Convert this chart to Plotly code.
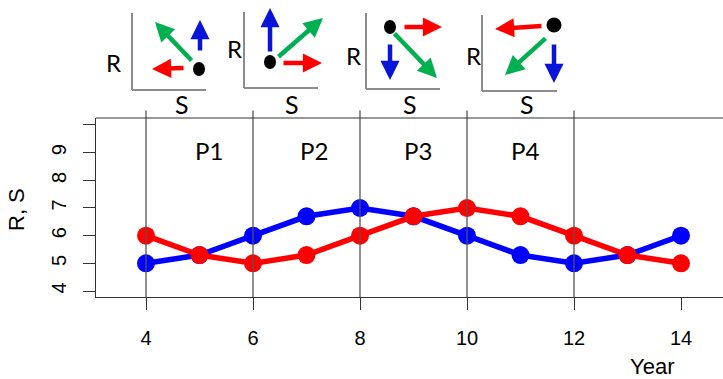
import plotly.graph_objects as go

# Time series of the two state variables
years = [4, 5, 6, 7, 8, 9, 10, 11, 12, 13, 14]
R_values = [5, 5.3, 6, 6.7, 7, 6.7, 6, 5.3, 5, 5.3, 6]
S_values = [6, 5.3, 5, 5.3, 6, 6.7, 7, 6.7, 6, 5.3, 5]

# Phase boundaries and labels
phase_bounds = [4, 6, 8, 10, 12]
phase_names = ["P1", "P2", "P3", "P4"]
phase_label_x = [5.18, 7.14, 9.08, 11.08]
phase_label_y = 9.07

x_ticks = [4, 6, 8, 10, 12, 14]
y_ticks = [4, 5, 6, 7, 8, 9, 10]
y_tick_text = ["4", "5", "6", "7", "8", "9", ""]

# ---- figure geometry (pixels) ----
FIG_W, FIG_H = 723, 379
L, T = 96, 118
B_PX = 297
W = FIG_W - L
H = B_PX - T


def px(x):
    return (x - L) / W


def py(y):
    return (B_PX - y) / H


RED = "#ff0000"
BLUE = "#0000ff"
GREEN = "#00b050"
ARROW_BLUE = "#0a14d8"

fig = go.Figure()

fig.add_trace(go.Scatter(
    x=years, y=R_values, mode="lines+markers", name="R",
    line=dict(color=BLUE, width=5.5),
    marker=dict(color=BLUE, size=18),
    showlegend=False,
))
fig.add_trace(go.Scatter(
    x=years, y=S_values, mode="lines+markers", name="S",
    line=dict(color=RED, width=5.5),
    marker=dict(color=RED, size=18),
    showlegend=False,
))

shapes = []
# vertical phase boundaries, reaching slightly above the frame
for xb in phase_bounds:
    shapes.append(dict(type="line", xref="x", yref="paper", x0=xb, x1=xb,
                       y0=0, y1=py(110.5), line=dict(color="#555555", width=1.3),
                       layer="above"))
# top edge of the frame
shapes.append(dict(type="line", xref="paper", yref="paper", x0=0, x1=1,
                   y0=1, y1=1, line=dict(color="#333333", width=1.2)))


def label(x, y, text, family, size, angle=0):
    return dict(x=x, y=y, xref="paper", yref="paper", text=text, textangle=angle,
                xanchor="center", yanchor="middle", showarrow=False,
                font=dict(family=family, size=size, color="black"))


annotations = []
for name, xl in zip(phase_names, phase_label_x):
    annotations.append(dict(x=xl, y=phase_label_y, xref="x", yref="y", text=name,
                            xanchor="center", yanchor="middle", showarrow=False,
                            font=dict(family="Lato", size=24, color="black")))

# axis titles
annotations.append(label(px(652), py(366), "Year", "Liberation Sans", 22))
annotations.append(label(px(16), py(210), "R, S", "Liberation Sans", 22, angle=-90))

# ---- small phase-plane sketches above the chart ----
# each panel: axis corner, axis ends, R/S label spots, dot, arrows (tail -> tip)
panels = [
    dict(corner=(132, 90), top=13, right=206, r_lab=(113, 63), s_lab=(182, 104),
         dot=(199, 69, 6, 7),
         arrows=[((193, 62), (155, 22), GREEN), ((200, 52), (200, 20), ARROW_BLUE),
                 ((185, 68), (152, 69), RED)]),
    dict(corner=(244, 88), top=12, right=318, r_lab=(234, 49), s_lab=(292, 104),
         dot=(270, 62, 6, 7),
         arrows=[((277, 58), (323, 18), GREEN), ((270, 53), (270, 8), ARROW_BLUE),
                 ((282, 63), (322, 63), RED)]),
    dict(corner=(366, 89), top=13, right=440, r_lab=(353, 55), s_lab=(410, 104),
         dot=(390, 27, 6, 7),
         arrows=[((393, 32), (437, 78), GREEN), ((390, 43), (390, 80), ARROW_BLUE),
                 ((403, 27), (442, 27), RED)]),
    dict(corner=(482, 91), top=15, right=557, r_lab=(473, 55), s_lab=(527, 104),
         dot=(554, 25, 7.5, 7.5),
         arrows=[((547, 37), (505, 75), GREEN), ((554, 43), (554, 83), ARROW_BLUE),
                 ((543, 26), (495, 29), RED)]),
]

for p in panels:
    cx, cy = p["corner"]
    shapes.append(dict(type="line", xref="paper", yref="paper", x0=px(cx), x1=px(cx),
                       y0=py(cy), y1=py(p["top"]), line=dict(color="#8c8c8c", width=2)))
    shapes.append(dict(type="line", xref="paper", yref="paper", x0=px(cx), x1=px(p["right"]),
                       y0=py(cy), y1=py(cy), line=dict(color="#8c8c8c", width=2)))
    dx, dy, rx, ry = p["dot"]
    shapes.append(dict(type="circle", xref="paper", yref="paper",
                       x0=px(dx - rx), x1=px(dx + rx), y0=py(dy + ry), y1=py(dy - ry),
                       fillcolor="black", line=dict(color="black", width=0)))
    annotations.append(label(px(p["r_lab"][0]), py(p["r_lab"][1]), "R", "Lato", 24))
    annotations.append(label(px(p["s_lab"][0]), py(p["s_lab"][1]), "S", "Lato", 25))
    for (tx, ty), (hx, hy), col in p["arrows"]:
        annotations.append(dict(x=px(hx), y=py(hy), xref="paper", yref="paper",
                                ax=tx - hx, ay=ty - hy, axref="pixel", ayref="pixel",
                                text="", showarrow=True, arrowhead=2, arrowsize=0.85,
                                arrowwidth=4.5, arrowcolor=col))

fig.update_layout(
    width=FIG_W, height=FIG_H,
    margin=dict(l=L, r=0, t=T, b=FIG_H - B_PX, pad=0),
    paper_bgcolor="white", plot_bgcolor="white",
    shapes=shapes, annotations=annotations,
    font=dict(family="Liberation Sans", color="black"),
)
fig.update_xaxes(
    range=[4 - 50 / 53.5, 4 + 577 / 53.5],
    tickvals=x_ticks, ticktext=[str(v) for v in x_ticks],
    ticks="outside", ticklen=12, tickwidth=1, tickcolor="#333333",
    showline=True, linecolor="#333333", linewidth=1.2,
    showgrid=False, zeroline=False,
    tickfont=dict(family="Liberation Sans", size=20, color="black"),
    ticklabelstandoff=11,
)
fig.update_yaxes(
    range=[4 - 6 / 27.67, 4 + 173 / 27.67],
    tickvals=y_ticks, ticktext=y_tick_text, tickangle=-90,
    ticks="outside", ticklen=12, tickwidth=1, tickcolor="#333333",
    showline=True, linecolor="#333333", linewidth=1.2,
    showgrid=False, zeroline=False,
    tickfont=dict(family="Liberation Sans", size=20, color="black"),
    ticklabelstandoff=9,
)

fig.write_html("out.html")
